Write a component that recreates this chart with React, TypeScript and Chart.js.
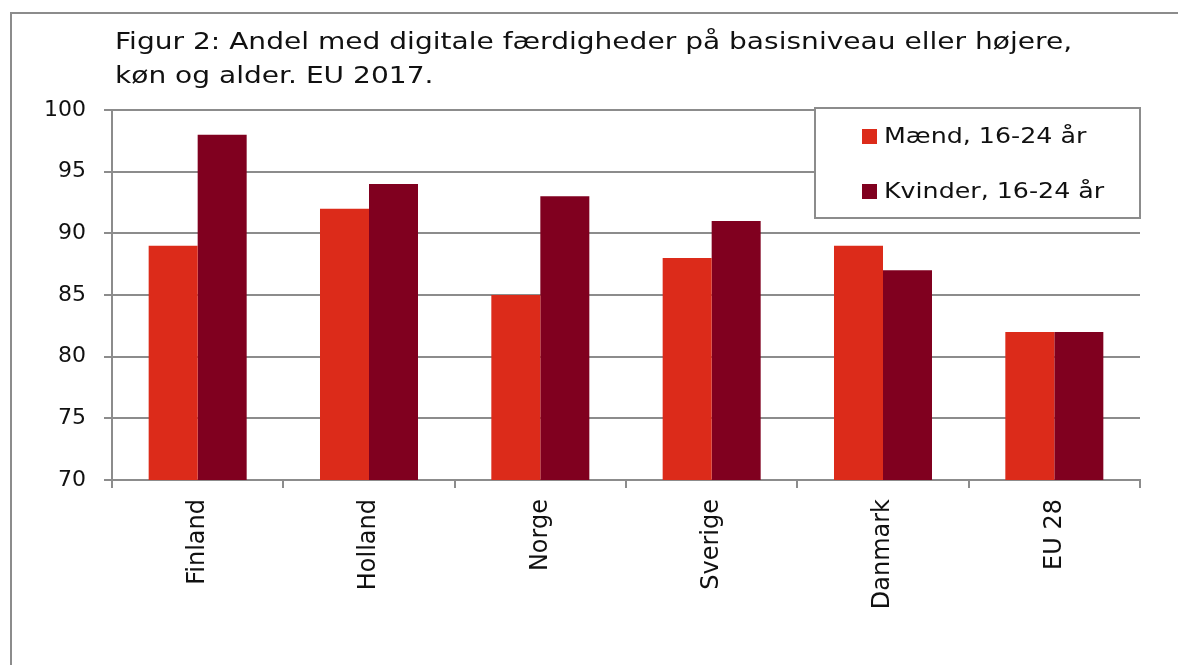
import React, { useEffect, useRef } from 'react';
import { Chart, registerables } from 'chart.js';

Chart.register(...registerables);

const categories = ['Finland', 'Holland', 'Norge', 'Sverige', 'Danmark', 'EU 28'];
const maend = [89, 92, 85, 88, 89, 82];
const kvinder = [98, 94, 93, 91, 87, 82];
const seriesLabels = ['Mænd, 16-24 år', 'Kvinder, 16-24 år'];
const seriesColors = ['#DC2B1A', '#80001F'];
const titleLines = [
  'Figur 2: Andel med digitale færdigheder på basisniveau eller højere,',
  'køn og alder. EU 2017.',
];

const FONT = '"DejaVu Sans", sans-serif';
const GRID = '#8c8c8c';
const TEXT = '#111111';

function wideText(ctx: any, text: string, x: number, y: number, sx: number) {
  ctx.save();
  ctx.translate(x, y);
  ctx.scale(sx, 1);
  ctx.fillText(text, 0, 0);
  ctx.restore();
}

const framePlugin = {
  id: 'frameTitle',
  beforeDraw(chart: any) {
    const ctx = chart.ctx;
    ctx.save();
    ctx.fillStyle = '#ffffff';
    ctx.fillRect(0, 0, chart.width, chart.height);
    ctx.strokeStyle = GRID;
    ctx.lineWidth = 2;
    ctx.strokeRect(11, 13, chart.width + 40, chart.height + 40);
    ctx.fillStyle = TEXT;
    ctx.font = `23px ${FONT}`;
    ctx.textBaseline = 'alphabetic';
    ctx.textAlign = 'left';
    wideText(ctx, titleLines[0], 115, 49, 1.22);
    wideText(ctx, titleLines[1], 115, 83, 1.22);
    ctx.restore();
  },
};

const legendPlugin = {
  id: 'boxLegend',
  afterDraw(chart: any) {
    const ctx = chart.ctx;
    const x0 = 815;
    const y0 = 108;
    const w = 325;
    const h = 110;
    ctx.save();
    ctx.fillStyle = '#ffffff';
    ctx.fillRect(x0, y0, w, h);
    ctx.strokeStyle = GRID;
    ctx.lineWidth = 2;
    ctx.strokeRect(x0, y0, w, h);
    ctx.font = `22px ${FONT}`;
    ctx.textBaseline = 'middle';
    ctx.textAlign = 'left';
    chart.data.datasets.forEach((ds: any, i: number) => {
      const cy = 137 + i * 55;
      ctx.fillStyle = ds.backgroundColor;
      ctx.fillRect(862, cy - 8, 15, 15);
      ctx.fillStyle = TEXT;
      wideText(ctx, ds.label, 884, cy, 1.15);
    });
    ctx.restore();
  },
};

export default function App() {
  const ref = useRef<HTMLCanvasElement | null>(null);

  useEffect(() => {
    if (!ref.current) return;
    const chart = new Chart(ref.current, {
      type: 'bar',
      data: {
        labels: categories,
        datasets: [
          { label: seriesLabels[0], data: maend, backgroundColor: seriesColors[0], borderWidth: 0 },
          { label: seriesLabels[1], data: kvinder, backgroundColor: seriesColors[1], borderWidth: 0 },
        ],
      },
      options: {
        animation: false,
        responsive: false,
        devicePixelRatio: 1,
        layout: { padding: { left: 0, top: 110, right: 38, bottom: 0 } },
        datasets: { bar: { barPercentage: 1, categoryPercentage: 0.572 } },
        plugins: {
          legend: { display: false },
          title: { display: false },
          tooltip: { enabled: false },
        },
        scales: {
          x: {
            afterFit(scale: any) {
              scale.height = 185;
            },
            grid: {
              offset: true,
              drawOnChartArea: false,
              drawTicks: true,
              tickLength: 8,
              color: GRID,
              lineWidth: 2,
            },
            border: { display: true, color: GRID, width: 2 },
            ticks: {
              maxRotation: 90,
              minRotation: 90,
              padding: 11,
              color: TEXT,
              font: { family: FONT, size: 24 },
            },
          },
          y: {
            min: 70,
            max: 100,
            afterFit(scale: any) {
              scale.width = 112;
            },
            grid: {
              drawTicks: true,
              tickLength: 8,
              color: GRID,
              lineWidth: 2,
            },
            border: { display: true, color: GRID, width: 2 },
            ticks: {
              stepSize: 5,
              padding: 18,
              color: TEXT,
              font: { family: FONT, size: 22 },
            },
          },
        },
      },
      plugins: [framePlugin, legendPlugin],
    });
    return () => chart.destroy();
  }, []);

  return (
    <div style={{ position: 'absolute', left: 0, top: 0, width: 1178, height: 665 }}>
      <canvas ref={ref} width={1178} height={665} style={{ display: 'block' }} />
    </div>
  );
}
